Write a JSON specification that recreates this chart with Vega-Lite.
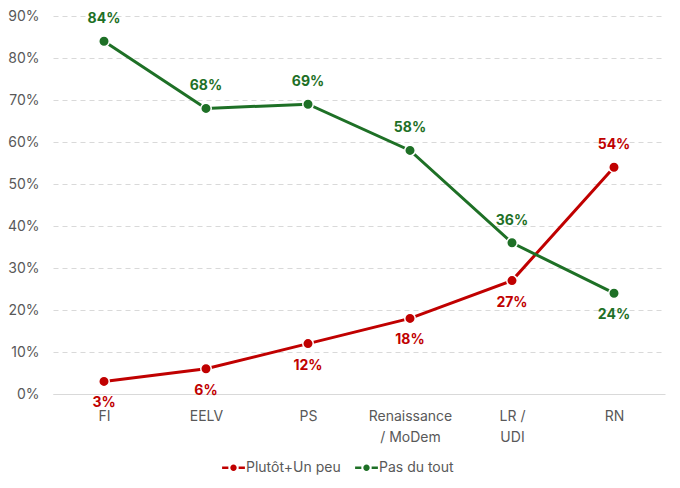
{
  "$schema": "https://vega.github.io/schema/vega-lite/v6.json",
  "width": 612,
  "height": 378,
  "autosize": "none",
  "padding": {"left": 53, "top": 16, "right": 15, "bottom": 94},
  "background": "white",
  "config": {
    "font": "Inter",
    "view": {"stroke": null}
  },
  "data": {
    "values": [
      {"party": "FI", "series": "Plutôt+Un peu", "value": 3},
      {"party": "EELV", "series": "Plutôt+Un peu", "value": 6},
      {"party": "PS", "series": "Plutôt+Un peu", "value": 12},
      {"party": "Renaissance / MoDem", "series": "Plutôt+Un peu", "value": 18},
      {"party": "LR / UDI", "series": "Plutôt+Un peu", "value": 27},
      {"party": "RN", "series": "Plutôt+Un peu", "value": 54},
      {"party": "FI", "series": "Pas du tout", "value": 84},
      {"party": "EELV", "series": "Pas du tout", "value": 68},
      {"party": "PS", "series": "Pas du tout", "value": 69},
      {"party": "Renaissance / MoDem", "series": "Pas du tout", "value": 58},
      {"party": "LR / UDI", "series": "Pas du tout", "value": 36},
      {"party": "RN", "series": "Pas du tout", "value": 24}
    ]
  },
  "transform": [
    {"calculate": "datum.value + '%'", "as": "label"}
  ],
  "encoding": {
    "x": {
      "field": "party",
      "type": "nominal",
      "sort": null,
      "scale": {"type": "point", "padding": 0.5},
      "axis": {
        "title": null,
        "labelAngle": 0,
        "labelFontSize": 14,
        "labelColor": "#595959",
        "labelPadding": 15,
        "labelLineHeight": 21,
        "ticks": false,
        "domainColor": "#D9D9D9",
        "domainWidth": 1,
        "labelExpr": "datum.value == 'Renaissance / MoDem' ? ['Renaissance', '/ MoDem'] : datum.value == 'LR / UDI' ? ['LR /', 'UDI'] : datum.value"
      }
    },
    "y": {
      "field": "value",
      "type": "quantitative",
      "scale": {"domain": [0, 90]},
      "axis": {
        "title": null,
        "values": [0, 10, 20, 30, 40, 50, 60, 70, 80, 90],
        "labelExpr": "datum.value + '%'",
        "labelFontSize": 14,
        "labelColor": "#595959",
        "labelPadding": 14,
        "ticks": false,
        "domain": false,
        "gridColor": "#D9D9D9",
        "gridDash": [5, 4],
        "gridWidth": 1
      }
    },
    "color": {
      "field": "series",
      "type": "nominal",
      "scale": {"domain": ["Plutôt+Un peu", "Pas du tout"], "range": ["#C00000", "#1E7026"]},
      "legend": {
        "title": null,
        "orient": "none",
        "direction": "horizontal",
        "legendX": 169,
        "legendY": 440,
        "labelFontSize": 14,
        "labelColor": "#595959",
        "columnPadding": 14,
        "symbolType": "M-1,-0.12H-0.45V0.12H-1Z M0.45,-0.12H1V0.12H0.45Z M0.28,0A0.28,0.28 0 1,1 -0.28,0A0.28,0.28 0 1,1 0.28,0Z",
        "symbolSize": 520,
        "symbolStrokeWidth": 0,
        "labelOffset": 1,
        "encode": {
          "symbols": {
            "update": {
              "fill": {"scale": "color", "field": "value"},
              "strokeWidth": {"value": 0}
            }
          }
        }
      }
    }
  },
  "layer": [
    {
      "mark": {"type": "line", "strokeWidth": 3}
    },
    {
      "mark": {"type": "point", "filled": true, "size": 110, "opacity": 1, "stroke": "white", "strokeWidth": 1.5}
    },
    {
      "transform": [
        {"filter": "(datum.series == 'Pas du tout' && datum.party != 'RN') || (datum.series == 'Plutôt+Un peu' && datum.party == 'RN')"}
      ],
      "mark": {"type": "text", "dy": -22, "fontSize": 14, "fontWeight": "bold"},
      "encoding": {"text": {"field": "label", "type": "nominal"}}
    },
    {
      "transform": [
        {"filter": "!((datum.series == 'Pas du tout' && datum.party != 'RN') || (datum.series == 'Plutôt+Un peu' && datum.party == 'RN'))"}
      ],
      "mark": {"type": "text", "dy": 22, "fontSize": 14, "fontWeight": "bold"},
      "encoding": {"text": {"field": "label", "type": "nominal"}}
    }
  ]
}
